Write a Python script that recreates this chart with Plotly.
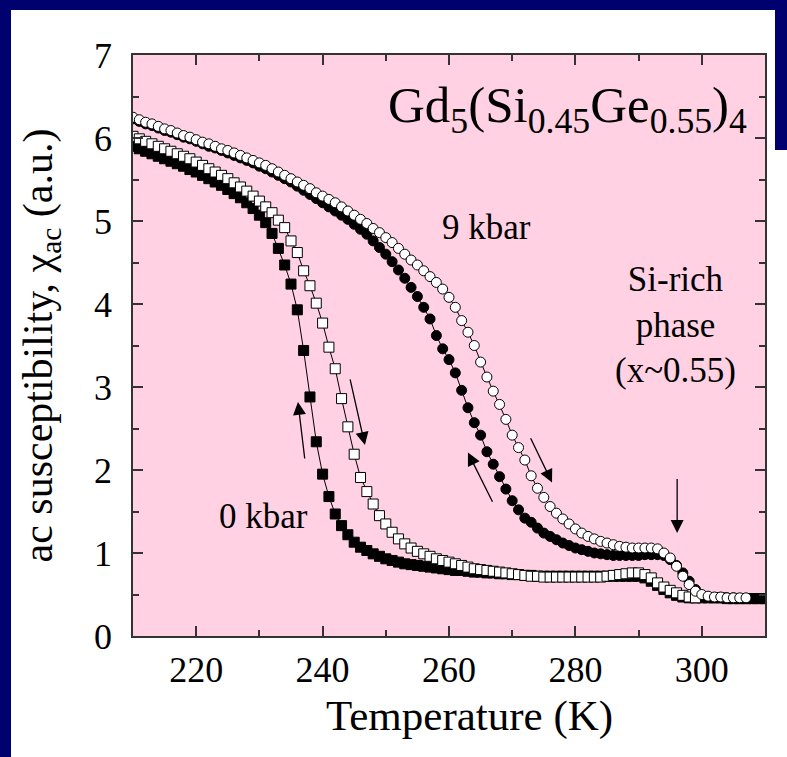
import plotly.graph_objects as go

# ---------------- data ----------------
T_cool_0 = list(range(210, 311))
chi_cool_0 = [
    5.90, 5.87, 5.84, 5.81, 5.78, 5.75, 5.72, 5.69, 5.66, 5.62,
    5.59, 5.55, 5.51, 5.47, 5.43, 5.38, 5.33, 5.28, 5.22, 5.15,
    5.07, 4.98, 4.85, 4.67, 4.47, 4.24, 3.93, 3.44, 2.88, 2.34,
    1.95, 1.68, 1.47, 1.33, 1.22, 1.13, 1.07, 1.03, 0.99, 0.96,
    0.93, 0.91, 0.89, 0.87, 0.86, 0.85, 0.84, 0.83, 0.82, 0.81,
    0.80, 0.79, 0.79, 0.78, 0.77, 0.77, 0.76, 0.76, 0.75, 0.75,
    0.74, 0.74, 0.73, 0.73, 0.72, 0.72, 0.72, 0.72, 0.72, 0.72,
    0.72, 0.72, 0.72, 0.72, 0.72, 0.72, 0.72, 0.72, 0.72, 0.72,
    0.72, 0.70, 0.66, 0.61, 0.56, 0.52, 0.49, 0.47, 0.46, 0.46,
    0.46, 0.46, 0.46, 0.46, 0.45, 0.45, 0.45, 0.45, 0.45, 0.45, 0.45,
]

T_heat_0 = list(range(210, 300))
chi_heat_0 = [
    6.02, 5.99, 5.96, 5.93, 5.90, 5.87, 5.84, 5.81, 5.78, 5.75,
    5.71, 5.67, 5.63, 5.59, 5.55, 5.51, 5.46, 5.41, 5.36, 5.30,
    5.24, 5.17, 5.10, 5.01, 4.92, 4.76, 4.62, 4.40, 4.22, 4.01,
    3.77, 3.48, 3.22, 2.86, 2.52, 2.19, 1.91, 1.74, 1.59, 1.45,
    1.35, 1.25, 1.17, 1.11, 1.06, 1.02, 0.99, 0.96, 0.93, 0.91,
    0.89, 0.87, 0.85, 0.83, 0.81, 0.80, 0.79, 0.78, 0.77, 0.76,
    0.75, 0.74, 0.73, 0.72, 0.72, 0.71, 0.71, 0.71, 0.71, 0.71,
    0.71, 0.71, 0.71, 0.71, 0.71, 0.72, 0.73, 0.74, 0.75, 0.76,
    0.76, 0.74, 0.70, 0.64, 0.59, 0.55, 0.52, 0.49, 0.47, 0.46,
]

T_cool_9 = list(range(210, 311))
chi_cool_9 = [
    6.23, 6.20, 6.17, 6.15, 6.12, 6.09, 6.07, 6.04, 6.01, 5.99,
    5.96, 5.93, 5.90, 5.88, 5.85, 5.82, 5.79, 5.76, 5.73, 5.70,
    5.66, 5.63, 5.59, 5.55, 5.51, 5.47, 5.42, 5.37, 5.32, 5.27,
    5.22, 5.17, 5.12, 5.07, 5.02, 4.96, 4.90, 4.84, 4.76, 4.68,
    4.60, 4.51, 4.41, 4.31, 4.20, 4.09, 3.96, 3.82, 3.62, 3.46,
    3.33, 3.17, 2.96, 2.75, 2.57, 2.42, 2.22, 2.07, 1.92, 1.77,
    1.63, 1.52, 1.42, 1.37, 1.30, 1.24, 1.20, 1.16, 1.12, 1.09,
    1.06, 1.04, 1.02, 1.00, 0.99, 0.98, 0.97, 0.97, 0.97, 0.97,
    0.97, 0.98, 0.98, 0.98, 0.97, 0.92, 0.85, 0.76, 0.66, 0.56,
    0.49, 0.47, 0.46, 0.46, 0.46, 0.46, 0.45, 0.45, 0.45, 0.45, 0.45,
]

T_heat_9 = list(range(210, 308))
chi_heat_9 = [
    6.25, 6.22, 6.19, 6.17, 6.14, 6.11, 6.09, 6.06, 6.03, 6.01,
    5.98, 5.95, 5.93, 5.90, 5.87, 5.85, 5.82, 5.79, 5.76, 5.73,
    5.70, 5.67, 5.63, 5.59, 5.55, 5.51, 5.47, 5.43, 5.39, 5.34,
    5.30, 5.26, 5.22, 5.17, 5.12, 5.07, 5.02, 4.97, 4.91, 4.86,
    4.80, 4.74, 4.67, 4.60, 4.53, 4.47, 4.40, 4.33, 4.26, 4.18,
    4.08, 3.96, 3.80, 3.66, 3.50, 3.30, 3.12, 2.95, 2.79, 2.61,
    2.42, 2.27, 2.12, 1.93, 1.78, 1.67, 1.56, 1.48, 1.41, 1.35,
    1.29, 1.24, 1.20, 1.17, 1.14, 1.12, 1.10, 1.08, 1.07, 1.06,
    1.06, 1.06, 1.06, 1.05, 1.00, 0.94, 0.84, 0.72, 0.62, 0.54,
    0.50, 0.48, 0.47, 0.47, 0.46, 0.46, 0.46, 0.46,
]

# sweep-direction arrows: (tail T, tail chi, head T, head chi)
arrow_paths = [
    (237.2, 2.12, 236.1, 2.82),
    (244.3, 3.11, 246.7, 2.30),
    (267.0, 1.60, 263.0, 2.21),
    (272.8, 2.40, 276.3, 1.85),
    (296.1, 1.91, 296.1, 1.24),
]

x_ticks = [220, 240, 260, 280, 300]
y_ticks = [0, 1, 2, 3, 4, 5, 6, 7]

# ---------------- style ----------------
SERIF = "Liberation Serif, Times New Roman, serif"
PINK = "#ffd1e2"
NAVY = "#00006e"
AX = "#333333"

fig = go.Figure()

def add(T, chi, symbol, fill, size):
    fig.add_trace(go.Scatter(
        x=T, y=chi, mode="lines+markers",
        line=dict(color="black", width=1),
        marker=dict(symbol=symbol, size=size, color=fill,
                    line=dict(color="black", width=1)),
        showlegend=False, hoverinfo="x+y",
    ))

add(T_cool_0, chi_cool_0, "square", "black", 10)
add(T_cool_9, chi_cool_9, "circle", "black", 10)
add(T_heat_0, chi_heat_0, "square", "white", 10)
add(T_heat_9, chi_heat_9, "circle", "white", 10)

axis_common = dict(
    showline=True, linecolor=AX, linewidth=1.5, mirror="ticks",
    ticks="inside", ticklen=10, tickwidth=1.5, tickcolor=AX,
    showgrid=False, zeroline=False,
    tickfont=dict(family=SERIF, size=36, color="black"),
)

fig.update_xaxes(range=[210, 310], tickvals=x_ticks,
                 minor=dict(dtick=10, tick0=210, ticks="inside", ticklen=6,
                            tickwidth=1.5, tickcolor=AX, showgrid=False),
                 ticklabelstandoff=1, **axis_common)
fig.update_yaxes(range=[0, 7], tickvals=y_ticks,
                 minor=dict(dtick=0.5, tick0=0, ticks="inside", ticklen=6,
                            tickwidth=1.5, tickcolor=AX, showgrid=False),
                 ticklabelstandoff=12, **axis_common)

ann = []
def label(text, x, y, size, **kw):
    ann.append(dict(text=text, x=x, y=y, xref="x", yref="y", showarrow=False,
                    font=dict(family=SERIF, size=size, color="black"), **kw))

label("Gd<sub>5</sub>(Si<sub>0.45</sub>Ge<sub>0.55</sub>)<sub>4</sub>", 278.8, 6.35, 51)
label("9 kbar", 266.0, 4.92, 35)
label("0 kbar", 230.7, 1.44, 35)
label("Si-rich<br>phase<br>(x~0.55)", 295.8, 3.75, 35, align="center")

for t0, c0, t1, c1 in arrow_paths:
    ann.append(dict(x=t1, y=c1, ax=t0, ay=c0, xref="x", yref="y",
                    axref="x", ayref="y", text="", showarrow=True,
                    arrowhead=2, arrowsize=2.0, arrowwidth=1.3,
                    arrowcolor="black", standoff=0, startstandoff=0))

# axis titles
ann.append(dict(text="Temperature (K)", x=0.533, y=-0.138, xref="paper", yref="paper",
                showarrow=False, xanchor="center", yanchor="middle",
                font=dict(family=SERIF, size=43, color="black")))
ann.append(dict(text="ac susceptibility, \u03c7<sub>ac</sub> (a.u.)", x=-0.1456, y=0.5,
                xref="paper", yref="paper", textangle=-90, showarrow=False,
                xanchor="center", yanchor="middle",
                font=dict(family=SERIF, size=42, color="black")))

# navy slide frame (outside the plot area)
PX = lambda px: (px - 133) / 632.0
PY = lambda py: (636 - py) / 581.0
shapes = [
    dict(type="rect", xref="paper", yref="paper", x0=PX(0), x1=PX(787), y0=PY(10), y1=PY(0),
         fillcolor=NAVY, line=dict(width=0), layer="above"),
    dict(type="rect", xref="paper", yref="paper", x0=PX(0), x1=PX(11), y0=PY(757), y1=PY(0),
         fillcolor=NAVY, line=dict(width=0), layer="above"),
    dict(type="rect", xref="paper", yref="paper", x0=PX(775), x1=PX(787), y0=PY(150), y1=PY(0),
         fillcolor=NAVY, line=dict(width=0), layer="above"),
]

fig.update_layout(
    width=787, height=757, autosize=False,
    margin=dict(l=133, r=22, t=55, b=121),
    paper_bgcolor="white", plot_bgcolor=PINK,
    annotations=ann, shapes=shapes,
    font=dict(family=SERIF, color="black"),
)

fig.write_html("out.html")
